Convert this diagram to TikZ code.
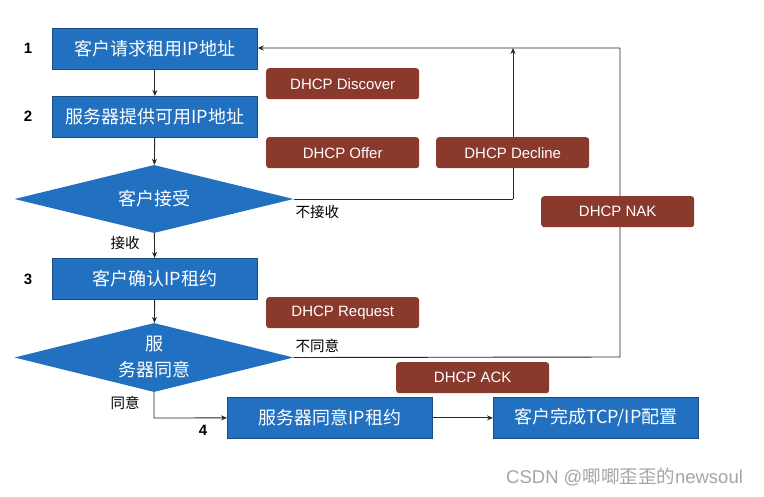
\documentclass[tikz,border=0pt]{standalone}
\usepackage{fontspec}
\setmainfont{Liberation Sans}
\newfontfamily\cjk{Noto Sans CJK SC}
\usetikzlibrary{shapes.geometric,arrows.meta}
\definecolor{boxblue}{RGB}{34,112,192}
\definecolor{boxedge}{RGB}{28,74,130}
\definecolor{msgred}{RGB}{138,57,45}
\definecolor{wmgray}{RGB}{165,165,165}
\tikzset{
  stepbox/.style={draw=boxedge, line width=0.8pt, fill=boxblue, text=white,
    font=\cjk\fontsize{18}{20}\selectfont, minimum width=205pt, minimum height=41pt,
    inner sep=0pt, anchor=north west},
  decide/.style={diamond, aspect=4.1, fill=boxblue, text=white, draw=none,
    font=\cjk\fontsize{18}{26}\selectfont, inner sep=0pt, align=center},
  msg/.style={fill=msgred, text=white, rounded corners=3pt, font=\fontsize{15}{17}\selectfont,
    minimum width=153pt, minimum height=31pt, inner sep=0pt, anchor=north west},
  num/.style={font=\bfseries\fontsize{15}{17}\selectfont},
  lbl/.style={font=\cjk\fontsize{14.5}{16}\selectfont},
  conn/.style={draw=black!85, line width=0.9pt},
  arr/.style={conn, -{Stealth[length=6pt,width=5pt]}},
}
\begin{document}
\begin{tikzpicture}[x=1pt,y=-1pt]
\useasboundingbox (0,0) rectangle (764,496);
\fill[white] (0,0) rectangle (764,496);

% connector bend points
\coordinate (topR) at (620,48);
\coordinate (nakB) at (620,357);
\coordinate (decB) at (513,199);
\coordinate (decT) at (513,48);
\coordinate (bend4) at (154,418);

% main boxes
\node[stepbox] (b1) at (52,28) {客户请求租用IP地址};
\node[stepbox] (b2) at (52,96) {服务器提供可用IP地址};
\node[decide, minimum width=279pt, minimum height=68pt] (d1) at (154,199) {客户接受};
\node[stepbox] (b3) at (52,258) {客户确认IP租约};
\node[decide, minimum width=279pt, minimum height=69pt] (d2) at (154,357.5) {服\\务器同意};
\node[stepbox, minimum width=205pt] (b4) at (227,397) {服务器同意IP租约};
\node[stepbox, minimum width=205pt] (b5) at (493,397) {客户完成TCP/IP配置};

\draw[arr] (b1) -- (b2);
\draw[arr] (b2) -- (d1);
\draw[arr] (d1) -- (b3);
\draw[arr] (b3) -- (d2);
\draw[arr] (d2.south) -- (bend4) -- (b4.west);
\draw[arr] (b4) -- (b5);
\draw[conn] (d1.east) -- (decB);
\draw[arr] (decB) -- (decT);
\draw[arr] (d2.east) -- (nakB) -- (topR) -- (b1.east |- topR);

% message boxes
\node[msg] (m1) at (266,68) {DHCP Discover};
\node[msg] (m2) at (266,137) {DHCP Offer};
\node[msg] (m3) at (436,137) {DHCP Decline};
\node[msg] (m4) at (541,196) {DHCP NAK};
\node[msg] (m5) at (266,297) {DHCP Request};
\node[msg] (m6) at (396,362) {DHCP ACK};

% numbers
\node[num] (n1) at (28,48) {1};
\node[num] (n2) at (28,116) {2};
\node[num] (n3) at (28,279) {3};
\node[num] (n4) at (203,430) {4};

% labels
\node[lbl, anchor=west] (l1) at (292,212) {不接收};
\node[lbl, anchor=west] (l2) at (292,346) {不同意};
\node[lbl] (l3) at (125,243) {接收};
\node[lbl] (l4) at (125,403) {同意};

\node[anchor=west, text=wmgray, font=\fontsize{18.5}{20}\selectfont, inner sep=0pt] (wm) at (506,477) {CSDN @{\cjk 唧唧歪歪的}newsoul};
\end{tikzpicture}
\end{document}
